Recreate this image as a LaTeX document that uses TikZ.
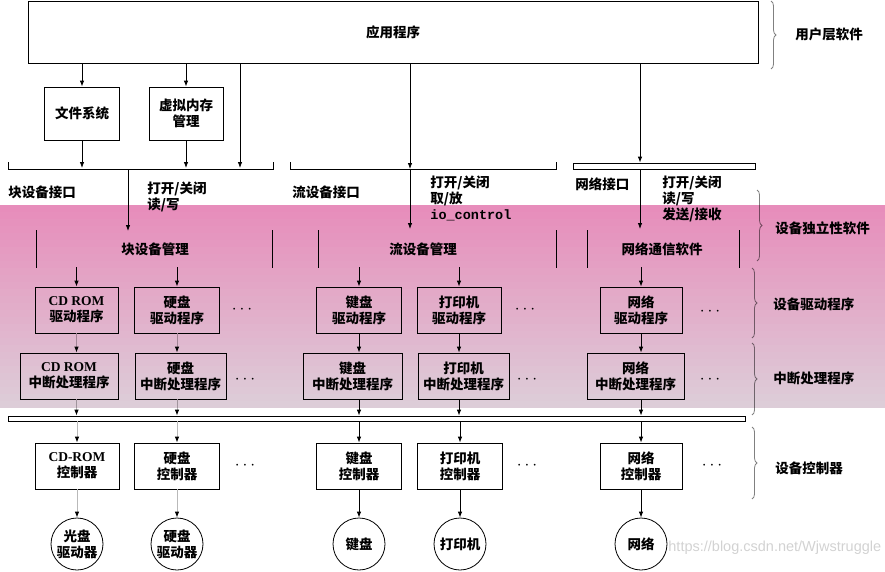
\documentclass[tikz,border=0pt]{standalone}
\usepackage{fontspec}
\setmainfont{Noto Sans CJK SC}
\newfontfamily\latin{Liberation Serif}
\newfontfamily\webfont{Liberation Sans}
\setmonofont{Liberation Mono}
\usetikzlibrary{arrows.meta,decorations.pathreplacing}
\definecolor{bandtop}{HTML}{E78DBB}
\definecolor{bandbot}{HTML}{DDCDD8}
\tikzset{
  every node/.style={font=\fontsize{13.5}{16}\selectfont\bfseries},
  box/.style={draw, minimum height=46pt, inner sep=0pt, align=center},
  lbl/.style={anchor=west, inner sep=0pt, align=left},
  link/.style={-{Latex[length=6pt,width=4.5pt]}},
  glink/.style={draw=gray!55, -{Latex[length=6pt,width=4.5pt,black]}},
  layer/.style={draw=gray, decorate, decoration={brace, amplitude=5pt}},
  dev/.style={draw, circle, minimum size=52pt, inner sep=0pt, align=center},
  dots/.style={inner sep=0pt, font=\fontsize{16}{16}\selectfont},
}
\begin{document}
\begin{tikzpicture}[x=1pt, y=-1pt, line width=0.8pt]
  \useasboundingbox (0,0) rectangle (885,571);
  % user level
  \node[draw, minimum width=730pt, minimum height=62pt] (app) at (393,32) {应用程序};
  \node[box, minimum width=75pt, minimum height=53pt] (fs) at (82,113.5) {文件系统};
  \node[box, minimum width=74pt, minimum height=53pt] (vm) at (186,113.5) {虚拟内存\\管理};
  \draw[link] (app.south -| fs.north) -- (fs.north);
  \draw[link] (app.south -| vm.north) -- (vm.north);
  \draw[link] (fs.south) -- (fs.south |- 0,168);
  \draw[link] (vm.south) -- (vm.south |- 0,168);
  % interfaces
  \coordinate (bif) at (128,169);
  \coordinate (sif) at (410,169);
  \coordinate (nif) at (640,169);
  \draw (8,162) -- (8,169) -- (273,169) -- (273,162);
  \draw (290,162) -- (290,169) -- (556,169) -- (556,162);
  \node[draw, minimum width=182pt, minimum height=6pt, inner sep=0pt] (nbar) at (664,166) {};
  \draw[link] (app.south -| 240,0) -- (240,168);
  \draw[link] (app.south -| sif) -- (sif);
  \draw[link] (app.south -| nif) -- (nbar.north -| nif);
  \node[lbl] (bil) at (8,192) {块设备接口};
  \node[lbl, anchor=north west] (bop) at (147,182) {打开/关闭\\读/写};
  \node[lbl] (sil) at (292,192) {流设备接口};
  \node[lbl, anchor=north west] (sop) at (430,176) {打开/关闭\\取/放\\\texttt{io\_control}};
  \node[lbl] (nil) at (575,184) {网络接口};
  \node[lbl, anchor=north west] (nop) at (662,176) {打开/关闭\\读/写\\发送/接收};
  % device independent software
  \node (bm) at (155,249) {块设备管理};
  \node (sm) at (423,249) {流设备管理};
  \node (nm) at (662,249) {网络通信软件};
  \draw (36,230) -- (36,268) (272,230) -- (272,268);
  \draw (318,230) -- (318,268) (556,230) -- (556,268);
  \draw (587,230) -- (587,268) (739,230) -- (739,268);
  \draw[link] (bif) -- (128,231);
  \draw[link] (sif) -- (410,229);
  \draw[link] (nbar.south -| nif) -- (640,229);
  % drivers
  \node[box, minimum width=83pt] (cdd) at (76.5,310) {{\latin CD ROM}\\驱动程序};
  \node[box, minimum width=85pt] (hdd) at (177,310) {硬盘\\驱动程序};
  \node[box, minimum width=85pt] (kbd) at (359,310) {键盘\\驱动程序};
  \node[box, minimum width=84pt] (prd) at (459,310) {打印机\\驱动程序};
  \node[box, minimum width=82pt] (ntd) at (641,310) {网络\\驱动程序};
  \node[dots] (d1) at (242,310) {$\cdots$};
  \node[dots] (d2) at (525,310) {$\cdots$};
  \node[dots] (d3) at (710,312) {$\cdots$};
  \foreach \n in {cdd,hdd,kbd,prd,ntd}
    \draw[link] (\n.north |- 0,267) -- (\n.north);
  % interrupt handlers
  \node[box, minimum width=98pt] (cdi) at (69,376) {{\latin CD ROM}\\中断处理程序};
  \node[box, minimum width=91pt] (hdi) at (180.5,376) {硬盘\\中断处理程序};
  \node[box, minimum width=99pt] (kbi) at (352.5,376) {键盘\\中断处理程序};
  \node[box, minimum width=91pt] (pri) at (463.5,376) {打印机\\中断处理程序};
  \node[box, minimum width=97pt] (nti) at (635.5,376) {网络\\中断处理程序};
  \node[dots] (d4) at (245,380) {$\cdots$};
  \node[dots] (d5) at (527,380) {$\cdots$};
  \node[dots] (d6) at (710,380) {$\cdots$};
  \draw[glink] (cdd.south) -- (cdd.south |- cdi.north);
  \draw[glink] (hdd.south) -- (hdd.south |- hdi.north);
  \draw[link] (kbd.south) -- (kbd.south |- kbi.north);
  \draw[link] (prd.south) -- (prd.south |- pri.north);
  \draw[link] (ntd.south) -- (ntd.south |- nti.north);
  % bus
  \node[draw, minimum width=737pt, minimum height=5pt, inner sep=0pt] (bus) at (376.5,418.5) {};
  \draw[glink] (cdd.south |- cdi.south) -- (cdd.south |- bus.north);
  \draw[glink] (hdd.south |- hdi.south) -- (hdd.south |- bus.north);
  \draw[link] (kbd.south |- kbi.south) -- (kbd.south |- bus.north);
  \draw[link] (prd.south |- pri.south) -- (prd.south |- bus.north);
  \draw[link] (ntd.south |- nti.south) -- (ntd.south |- bus.north);
  % controllers
  \node[box, minimum width=84pt] (cdc) at (77,466) {{\latin CD-ROM}\\控制器};
  \node[box, minimum width=85pt] (hdc) at (177,466) {硬盘\\控制器};
  \node[box, minimum width=85pt] (kbc) at (359,466) {键盘\\控制器};
  \node[box, minimum width=85pt] (prc) at (460,466) {打印机\\控制器};
  \node[box, minimum width=82pt] (ntc) at (641,466) {网络\\控制器};
  \node[dots] (d7) at (245,466) {$\cdots$};
  \node[dots] (d8) at (527,466) {$\cdots$};
  \node[dots] (d9) at (712,466) {$\cdots$};
  \draw[glink] (bus.south -| cdc.north) -- (cdc.north);
  \draw[glink] (bus.south -| hdc.north) -- (hdc.north);
  \draw[link] (bus.south -| kbc.north) -- (kbc.north);
  \draw[link] (bus.south -| prc.north) -- (prc.north);
  \draw[link] (bus.south -| ntc.north) -- (ntc.north);
  % devices
  \node[font=\webfont\fontsize{14.5}{16}\selectfont, text=gray!35, anchor=west, inner sep=0pt] (wm) at (668,548) {https://blog.csdn.net/Wjwstruggle};
  \node[dev] (cdv) at (77,544) {光盘\\驱动器};
  \node[dev] (hdv) at (177,544) {硬盘\\驱动器};
  \node[dev] (kbv) at (359,544) {键盘};
  \node[dev] (prv) at (460,544) {打印机};
  \node[dev] (ntv) at (641,544) {网络};
  \draw[glink] (cdc.south) -- (cdv.north);
  \draw[glink] (hdc.south) -- (hdv.north);
  \draw[link] (kbc.south) -- (kbv.north);
  \draw[link] (prc.south) -- (prv.north);
  \draw[link] (ntc.south) -- (ntv.north);
  % layers
  \draw[layer] (771,1) -- (771,69);
  \draw[layer] (757,190) -- (757,261);
  \draw[layer] (752,268) -- (752,338);
  \draw[layer] (752,343) -- (752,415);
  \draw[layer] (752,427) -- (752,499);
  \node[lbl] (l1) at (795,34) {用户层软件};
  \node[lbl] (l2) at (775,228) {设备独立性软件};
  \node[lbl] (l3) at (773,304) {设备驱动程序};
  \node[lbl] (l4) at (773,378) {中断处理程序};
  \node[lbl] (l5) at (775,468) {设备控制器};
  % pink band, in strips
  \begin{scope}[blend mode=multiply]
  \foreach \i in {0,...,28} {
    \pgfmathsetmacro\p{100*\i/28}
    \fill[bandbot!\p!bandtop] (0,205+7*\i) rectangle (885,212+7*\i);
  }
  \end{scope}
\end{tikzpicture}
\end{document}
